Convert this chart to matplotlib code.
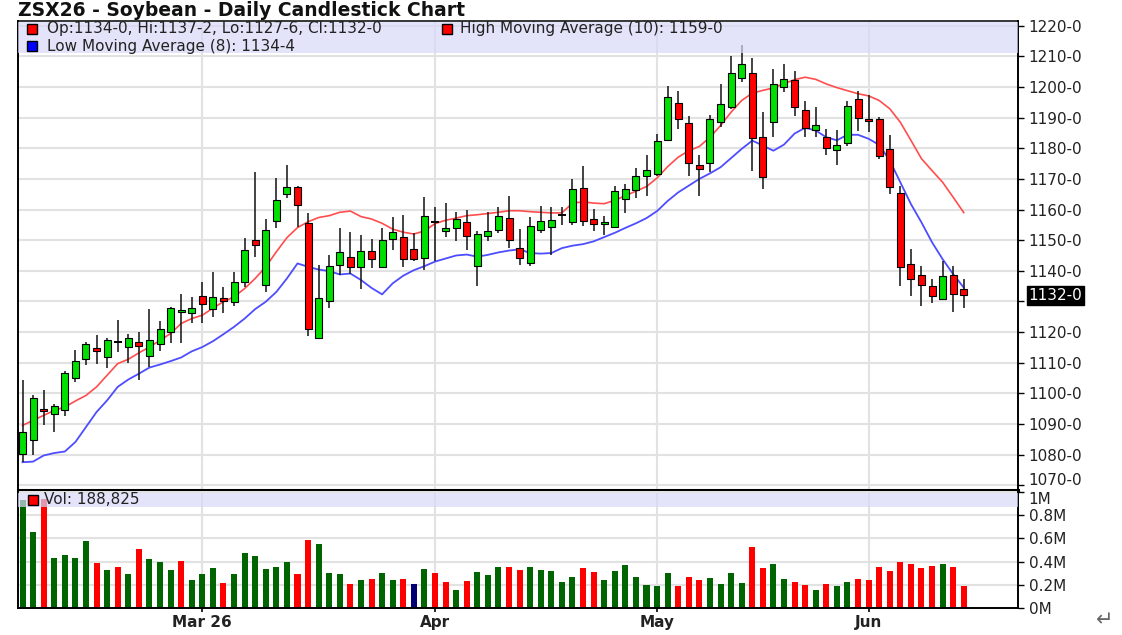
import numpy as np
import matplotlib
matplotlib.use('Agg')
import matplotlib.pyplot as plt
from matplotlib.patches import Rectangle
from matplotlib.transforms import blended_transform_factory

# daily bars, oldest first (cents per bushel)
opens = [1080.3, 1084.6, 1095.0, 1093.1, 1094.6, 1105.0, 1111.3, 1114.8, 1111.9, 1116.8,
         1115.1, 1116.8, 1112.1, 1116.2, 1120.1, 1126.4, 1126.3, 1131.8, 1127.5, 1131.0,
         1129.9, 1136.4, 1149.9, 1135.3, 1156.4, 1165.1, 1167.3, 1155.5, 1118.2, 1130.2,
         1141.9, 1144.6, 1141.3, 1146.6, 1141.1, 1150.3, 1151.1, 1147.2, 1144.2, 1155.9,
         1153.1, 1154.0, 1155.9, 1141.4, 1151.5, 1153.4, 1157.2, 1147.6, 1142.5, 1153.4,
         1154.2, 1158.1, 1155.8, 1167.1, 1157.0, 1155.4, 1154.2, 1163.5, 1166.4, 1171.1,
         1171.6, 1182.8, 1194.8, 1188.2, 1174.7, 1175.2, 1188.5, 1193.6, 1203.0, 1204.7,
         1183.6, 1188.7, 1200.0, 1202.4, 1192.4, 1186.0, 1183.6, 1179.5, 1181.8, 1196.0,
         1189.6, 1189.4, 1179.8, 1165.3, 1142.2, 1138.6, 1135.1, 1130.8, 1138.6, 1134.0]
highs = [1104.2, 1099.3, 1101.0, 1096.4, 1107.3, 1114.1, 1116.8, 1119.0, 1118.1, 1123.9,
         1119.3, 1120.1, 1127.4, 1123.5, 1128.2, 1132.4, 1131.5, 1136.2, 1139.7, 1134.8,
         1139.7, 1150.8, 1172.4, 1156.9, 1170.4, 1174.4, 1167.6, 1158.8, 1141.9, 1145.1,
         1153.9, 1152.8, 1151.7, 1150.4, 1153.9, 1157.4, 1158.2, 1152.3, 1164.0, 1160.7,
         1162.1, 1159.1, 1159.7, 1152.9, 1159.1, 1160.7, 1164.5, 1153.8, 1157.6, 1161.3,
         1160.8, 1160.8, 1170.0, 1174.1, 1160.2, 1157.8, 1167.7, 1168.3, 1173.5, 1177.9,
         1184.5, 1200.3, 1198.7, 1190.5, 1177.9, 1191.0, 1201.1, 1210.0, 1213.6, 1209.6,
         1191.8, 1206.0, 1207.4, 1205.2, 1195.3, 1193.5, 1186.4, 1186.0, 1195.3, 1198.7,
         1197.3, 1190.2, 1184.4, 1167.8, 1147.1, 1141.7, 1137.3, 1143.3, 1141.7, 1137.25]
lows = [1077.5, 1080.0, 1089.5, 1087.3, 1092.6, 1103.7, 1109.1, 1109.7, 1108.1, 1113.5,
        1110.0, 1104.2, 1108.6, 1113.8, 1116.5, 1116.5, 1123.0, 1123.0, 1125.0, 1126.1,
        1128.6, 1134.8, 1144.6, 1133.1, 1153.9, 1163.7, 1154.4, 1118.7, 1118.0, 1128.0,
        1138.6, 1139.1, 1134.0, 1140.8, 1140.8, 1146.8, 1141.1, 1143.1, 1140.3, 1143.1,
        1151.0, 1149.8, 1146.7, 1135.1, 1149.6, 1152.3, 1147.6, 1142.0, 1141.4, 1152.3,
        1145.2, 1155.1, 1155.1, 1154.7, 1152.9, 1151.8, 1153.9, 1158.8, 1163.8, 1164.5,
        1171.1, 1182.5, 1186.3, 1170.8, 1164.5, 1172.2, 1186.9, 1192.9, 1201.6, 1172.7,
        1166.7, 1183.6, 1198.3, 1190.4, 1183.6, 1183.6, 1177.9, 1174.7, 1180.6, 1185.8,
        1185.3, 1176.6, 1165.1, 1135.1, 1131.8, 1128.6, 1129.4, 1130.8, 1126.4, 1127.75]
closes = [1087.3, 1098.6, 1094.1, 1095.7, 1106.6, 1110.5, 1116.2, 1113.7, 1117.3, 1116.8,
          1117.9, 1115.4, 1117.3, 1121.1, 1127.7, 1127.1, 1128.0, 1129.1, 1131.5, 1130.2,
          1136.4, 1146.8, 1148.4, 1153.3, 1163.1, 1167.3, 1161.5, 1120.9, 1131.0, 1141.5,
          1146.2, 1141.3, 1146.6, 1144.0, 1149.9, 1152.6, 1144.0, 1144.0, 1157.8, 1155.9,
          1154.0, 1157.0, 1151.2, 1152.0, 1152.9, 1157.8, 1149.9, 1144.2, 1154.5, 1156.4,
          1156.7, 1158.1, 1166.7, 1156.4, 1155.4, 1155.9, 1165.9, 1166.6, 1171.1, 1172.9,
          1182.5, 1196.7, 1189.4, 1175.2, 1173.2, 1189.4, 1194.5, 1204.7, 1207.4, 1183.3,
          1170.5, 1201.1, 1202.7, 1193.4, 1186.7, 1187.5, 1180.2, 1181.1, 1193.7, 1190.0,
          1188.8, 1177.4, 1167.3, 1141.3, 1137.3, 1135.3, 1131.8, 1138.2, 1132.5, 1132.0]
volumes = [930000, 657000, 934000, 434000, 457000, 434000, 577000, 386000, 326000, 357000,
           297000, 506000, 426000, 397000, 326000, 406000, 246000, 297000, 349000, 214000,
           297000, 477000, 449000, 337000, 357000, 397000, 297000, 589000, 549000, 306000,
           297000, 206000, 246000, 254000, 306000, 246000, 254000, 206000, 337000, 306000,
           226000, 154000, 234000, 314000, 286000, 357000, 357000, 326000, 357000, 324000,
           323000, 222000, 271000, 343000, 309000, 240000, 320000, 371000, 271000, 200000,
           191000, 300000, 191000, 271000, 240000, 260000, 209000, 300000, 220000, 523000,
           343000, 380000, 249000, 229000, 200000, 160000, 209000, 191000, 229000, 249000,
           240000, 351000, 320000, 400000, 380000, 343000, 363000, 380000, 351000, 188825]
# moving averages as drawn on the chart
high_ma10 = [1089.5, 1091.2, 1092.8, 1094.4, 1095.5, 1097.5, 1099.3, 1102.1, 1105.9, 1109.7,
             1111.1, 1113.2, 1115.1, 1117.3, 1119.5, 1122.8, 1124.4, 1125.5, 1127.8, 1129.9,
             1131.5, 1134.2, 1137.5, 1141.3, 1146.2, 1150.8, 1154.1, 1156.0, 1157.4, 1158.0,
             1159.1, 1159.5, 1157.7, 1156.9, 1155.5, 1153.6, 1152.6, 1152.0, 1153.0, 1155.4,
             1156.5, 1157.2, 1158.0, 1158.3, 1158.7, 1159.1, 1159.6, 1159.6, 1159.3, 1159.1,
             1158.9, 1158.9, 1162.1, 1162.5, 1162.1, 1161.9, 1163.0, 1164.5, 1166.0, 1167.5,
             1170.3, 1174.0, 1177.1, 1179.2, 1180.6, 1183.6, 1187.4, 1191.8, 1195.6, 1198.0,
             1198.9, 1199.7, 1201.1, 1202.4, 1203.2, 1202.5, 1201.0, 1199.8, 1198.8, 1197.8,
             1197.1, 1195.6, 1192.9, 1188.5, 1182.6, 1176.6, 1172.7, 1168.9, 1164.0, 1159.0]
low_ma8 = [1077.5, 1077.7, 1079.7, 1080.5, 1081.0, 1084.1, 1089.0, 1093.9, 1097.7, 1102.1,
           1104.5, 1106.4, 1108.4, 1109.4, 1110.5, 1111.7, 1113.7, 1115.1, 1117.0, 1119.3,
           1121.7, 1124.4, 1127.5, 1129.9, 1133.1, 1137.5, 1142.4, 1141.3, 1140.4, 1139.9,
           1138.8, 1139.1, 1137.0, 1134.4, 1132.3, 1135.9, 1138.4, 1140.2, 1141.5, 1143.0,
           1144.0, 1145.0, 1145.3, 1144.6, 1145.2, 1146.0, 1146.6, 1147.0, 1145.8, 1145.6,
           1145.8, 1147.4, 1148.2, 1148.7, 1149.6, 1151.0, 1152.4, 1154.0, 1155.5, 1157.2,
           1159.5, 1162.8, 1165.6, 1167.8, 1170.0, 1171.8, 1173.8, 1176.8, 1179.8, 1182.5,
           1180.9, 1179.2, 1181.2, 1184.8, 1186.7, 1185.8, 1183.6, 1182.6, 1184.4, 1184.4,
           1183.1, 1181.1, 1176.0, 1168.9, 1161.8, 1155.8, 1149.3, 1143.8, 1138.9, 1134.5]

month_pos = [17, 39, 60, 80]
month_labels = ['Mar 26', 'Apr', 'May', 'Jun']
price_ticks = list(range(1070, 1230, 10))
vol_ticks = [0, 200000, 400000, 600000, 800000, 1000000]
vol_labels = ['0M', '0.2M', '0.4M', '0.6M', '0.8M', '1M']


def fmt(p):
    # soybean quotes: whole cents and eighths
    whole = int(p)
    return '%d-%d' % (whole, int(round((p - whole) * 8)))


W, H = 1122, 635
def fx(x): return x / W
def fy(y): return 1 - y / H


plt.rcParams['font.family'] = ['DejaVu Sans']
fig = plt.figure(figsize=(W / 100, H / 100), dpi=100)
ax = fig.add_axes([fx(18.3), fy(490), (1017.5 - 18.3) / W, (490 - 20.7) / H])
axv = fig.add_axes([fx(18.3), fy(608.3), (1017.5 - 18.3) / W, (608.3 - 491) / H])

o = np.array(opens); h = np.array(highs); l = np.array(lows); c = np.array(closes)
x = np.arange(len(o))

# candles
ax.vlines(x, l, h, color='#1a1a1a', lw=1.15, zorder=2)
up = c > o
dn = c < o
doji = c == o
ax.bar(x[up], (c - o)[up], bottom=o[up], width=0.66, color='#00e000',
       edgecolor='black', linewidth=0.8, zorder=3)
ax.bar(x[dn], (o - c)[dn], bottom=c[dn], width=0.66, color='#ff0000',
       edgecolor='black', linewidth=0.8, zorder=3)
ax.hlines(c[doji], x[doji] - 0.36, x[doji] + 0.36, color='black', lw=1.4, zorder=3)

ax.plot(x, high_ma10, color='#ff4d4d', lw=1.2, zorder=1.5)
ax.plot(x, low_ma8, color='#4d4dff', lw=1.3, zorder=1.5)

ax.set_xlim(-0.4, 94.08)
ax.set_ylim(1068.43, 1221.65)
ax.set_yticks(price_ticks)
ax.set_yticklabels(['' if abs(t - c[-1]) < 5 else fmt(t) for t in price_ticks])
ax.yaxis.tick_right()
ax.set_xticks(month_pos)
ax.set_xticklabels([])
ax.tick_params(axis='x', length=0)
ax.tick_params(axis='y', direction='out', length=4, width=1, pad=4,
               labelsize=11, labelcolor='#222')
# lowest price label rests on its tick so it clears the volume scale
ax.get_yticklabels()[0].set_verticalalignment('baseline')
ax.grid(True, color='#e2e2e2', lw=1.5, zorder=0)
ax.set_axisbelow(True)
for s in ax.spines.values():
    s.set_linewidth(1.1)
ax.spines['bottom'].set_linewidth(2.2)
ax.spines['left'].set_linewidth(1.4)
ax.spines['right'].set_linewidth(1.4)

ax.add_patch(Rectangle((0, 0.931), 1, 0.066, transform=ax.transAxes,
                       facecolor='#d8d8f8', edgecolor='none', alpha=0.7, zorder=4))

# last close box
tr = blended_transform_factory(ax.transAxes, ax.transData)
ax.text(1.011, c[-1], fmt(c[-1]), transform=tr, ha='left', va='center',
        fontsize=11, color='white', zorder=6, clip_on=False,
        bbox=dict(facecolor='black', edgecolor='black', pad=1.4))

# volume
chg = np.diff(np.concatenate([[o[0]], c]))
vcols = np.where(chg > 0, '#006400', np.where(chg < 0, '#ff0000', '#000070'))
axv.bar(x, volumes, width=0.57, color=vcols, zorder=2)
axv.set_xlim(-0.4, 94.08)
axv.set_ylim(0, 1005400)
axv.set_yticks(vol_ticks)
axv.set_yticklabels(vol_labels)
axv.yaxis.tick_right()
axv.set_xticks(month_pos)
axv.set_xticklabels(month_labels, fontweight='bold', fontsize=11, color='#222')
axv.tick_params(axis='x', direction='out', length=3, width=1.2, pad=2)
axv.tick_params(axis='y', direction='out', length=4, width=1, pad=4,
                labelsize=11, labelcolor='#222')
axv.get_yticklabels()[-1].set_verticalalignment('top')
axv.grid(True, color='#e2e2e2', lw=1.5, zorder=0)
axv.set_axisbelow(True)
for s in axv.spines.values():
    s.set_linewidth(1.4)
axv.spines['top'].set_visible(False)
axv.add_patch(Rectangle((0, 0.864), 1, 0.12, transform=axv.transAxes,
                        facecolor='#d8d8f8', edgecolor='none', alpha=0.7, zorder=4))

# titles and legends
fig.text(fx(18), fy(10), 'ZSX26 - Soybean - Daily Candlestick Chart', ha='left',
         va='center', fontsize=13.5, fontweight='bold', color='#111')


def key(xc, yc, col, text, tx):
    fig.add_artist(Rectangle((fx(xc - 5), fy(yc + 5)), 10 / W, 10 / H,
                             transform=fig.transFigure, facecolor=col,
                             edgecolor='black', lw=1, zorder=7))
    fig.text(fx(tx), fy(yc), text, ha='left', va='center', fontsize=11,
             color='#222', zorder=7)


key(32, 29, '#ff0000', 'Op:%s, Hi:%s, Lo:%s, Cl:%s' % (fmt(o[-1]), fmt(h[-1]), fmt(l[-1]), fmt(c[-1])), 47)
key(447, 29, '#ff0000', 'High Moving Average (10): %s' % fmt(high_ma10[-1]), 460)
key(32, 46, '#0000ff', 'Low Moving Average (8): %s' % fmt(low_ma8[-1]), 47)
key(33, 500, '#ff0000', 'Vol: {:,}'.format(volumes[-1]), 44)

fig.text(fx(1105), fy(620), '\u21b5', ha='center', va='center', fontsize=15, color='#666')

fig.savefig('out.png', dpi=100)
